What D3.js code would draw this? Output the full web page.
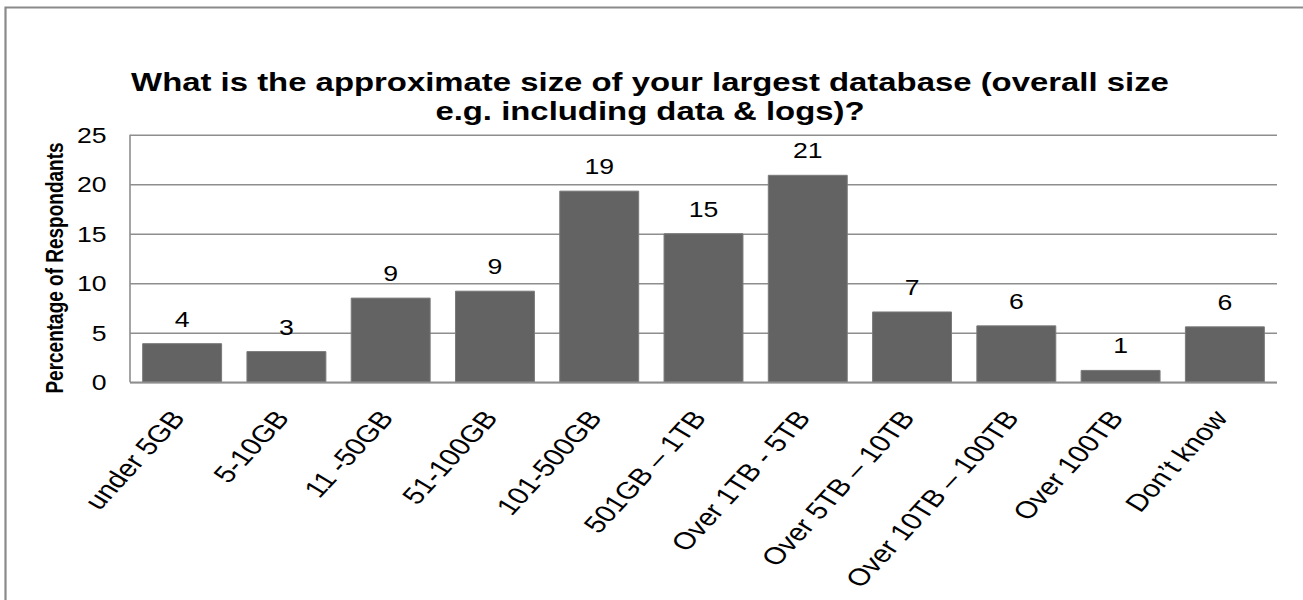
<!DOCTYPE html>
<html>
<head>
<meta charset="utf-8">
<script src="https://cdn.jsdelivr.net/npm/d3@7/dist/d3.min.js"></script>
<style>
  html, body { margin: 0; padding: 0; background: #ffffff; }
  svg { display: block; }
  text { font-family: "Liberation Sans", Arial, Helvetica, sans-serif; fill: #000; }
</style>
</head>
<body>
<div id="chart"></div>
<script>
// Survey answers: size of the largest database
const categories = [
  "under 5GB", "5-10GB", "11 -50GB", "51-100GB", "101-500GB", "501GB \u2013 1TB",
  "Over 1TB - 5TB", "Over 5TB \u2013 10TB", "Over 10TB \u2013 100TB", "Over 100TB", "Don\u2019t know"
];
const percentages = [3.9, 3.1, 8.5, 9.2, 19.3, 15.0, 20.9, 7.1, 5.7, 1.2, 5.6];
const yTicks = [0, 5, 10, 15, 20, 25];
const titleLines = [
  "What is the approximate size of your largest database (overall size",
  "e.g. including data & logs)?"
];
const yAxisTitle = "Percentage of Respondants";

// Drawing space is narrower than the page and stretched across its width
const pageW = 1303, pageH = 600;
const sx = 1.2505;
const W = pageW / sx, H = 600;
const px = v => v / sx;   // page x -> drawing x

const svg = d3.select("#chart").append("svg")
  .attr("width", pageW).attr("height", pageH)
  .attr("viewBox", `0 0 ${W} ${H}`)
  .attr("preserveAspectRatio", "none");

const plot = { left: px(130), right: px(1277), top: 134.7, bottom: 382.3 };

const x = d3.scaleBand()
  .domain(categories)
  .range([plot.left, plot.right])
  .paddingInner(0.243)
  .paddingOuter(0.1215);

const y = d3.scaleLinear()
  .domain([0, 25])
  .range([plot.bottom, plot.top]);

const gridColor = "#8e8e8e";

// outer frame
svg.append("rect")
  .attr("x", px(5.5)).attr("y", 7.5)
  .attr("width", W + 20).attr("height", H + 20)
  .attr("fill", "none")
  .attr("stroke", "#8a8a8a")
  .attr("stroke-width", 2.2)
  .attr("vector-effect", "non-scaling-stroke");

// horizontal gridlines and value axis
const yAxis = d3.axisLeft(y).tickValues(yTicks).tickSize(-(plot.right - plot.left)).tickPadding(0);
const gy = svg.append("g")
  .attr("transform", `translate(${plot.left},0)`)
  .call(yAxis);
gy.select(".domain")
  .attr("stroke", gridColor)
  .attr("stroke-width", 1.6)
  .attr("vector-effect", "non-scaling-stroke")
  .attr("d", `M0,${plot.top}V${plot.bottom}`);
gy.selectAll(".tick line")
  .attr("stroke", gridColor)
  .attr("stroke-width", 1.6)
  .attr("vector-effect", "non-scaling-stroke");
gy.selectAll(".tick text")
  .attr("x", px(106.5) - plot.left)
  .attr("dy", "0.36em")
  .attr("text-anchor", "end")
  .style("font-size", "21.3px")
  .style("font-family", "'Liberation Sans', Arial, sans-serif")
  .attr("fill", "#000");

// bars
svg.append("g").selectAll("rect")
  .data(percentages)
  .join("rect")
  .attr("x", (d, i) => x(categories[i]))
  .attr("width", x.bandwidth())
  .attr("y", d => y(d))
  .attr("height", d => y(0) - y(d))
  .attr("fill", "#636363")
  .attr("stroke", "#7a7a7a")
  .attr("stroke-width", 1)
  .attr("vector-effect", "non-scaling-stroke");

// category axis line
svg.append("line")
  .attr("x1", plot.left).attr("x2", plot.right)
  .attr("y1", plot.bottom).attr("y2", plot.bottom)
  .attr("stroke", gridColor)
  .attr("stroke-width", 1.8)
  .attr("vector-effect", "non-scaling-stroke");

// value labels
svg.append("g").selectAll("text")
  .data(percentages)
  .join("text")
  .attr("x", (d, i) => x(categories[i]) + x.bandwidth() / 2)
  .attr("y", d => y(d) - 17)
  .attr("text-anchor", "middle")
  .style("font-size", "21.3px")
  .text(d => d3.format(".0f")(d + 1e-9));

// category labels, slanted at about 47 degrees on the page
const slant = -Math.atan(Math.tan(47 * Math.PI / 180) * sx) * 180 / Math.PI;
svg.append("g").selectAll("text")
  .data(categories)
  .join("text")
  .attr("text-anchor", "end")
  .attr("transform", d => `translate(${x(d) + x.bandwidth() / 2 + px(4)},${plot.bottom + 36}) rotate(${slant})`)
  .style("font-size", "24px")
  .text(d => d);

// y axis title
svg.append("text")
  .attr("transform", `translate(${px(63)},268) rotate(-90)`)
  .attr("text-anchor", "middle")
  .style("font-size", "19px")
  .style("font-weight", "bold")
  .text(yAxisTitle);

// chart title
svg.append("g").selectAll("text")
  .data(titleLines)
  .join("text")
  .attr("x", px(650))
  .attr("y", (d, i) => 91.5 + i * 29)
  .attr("text-anchor", "middle")
  .style("font-size", "26.3px")
  .style("font-weight", "bold")
  .text(d => d);
</script>
</body>
</html>
